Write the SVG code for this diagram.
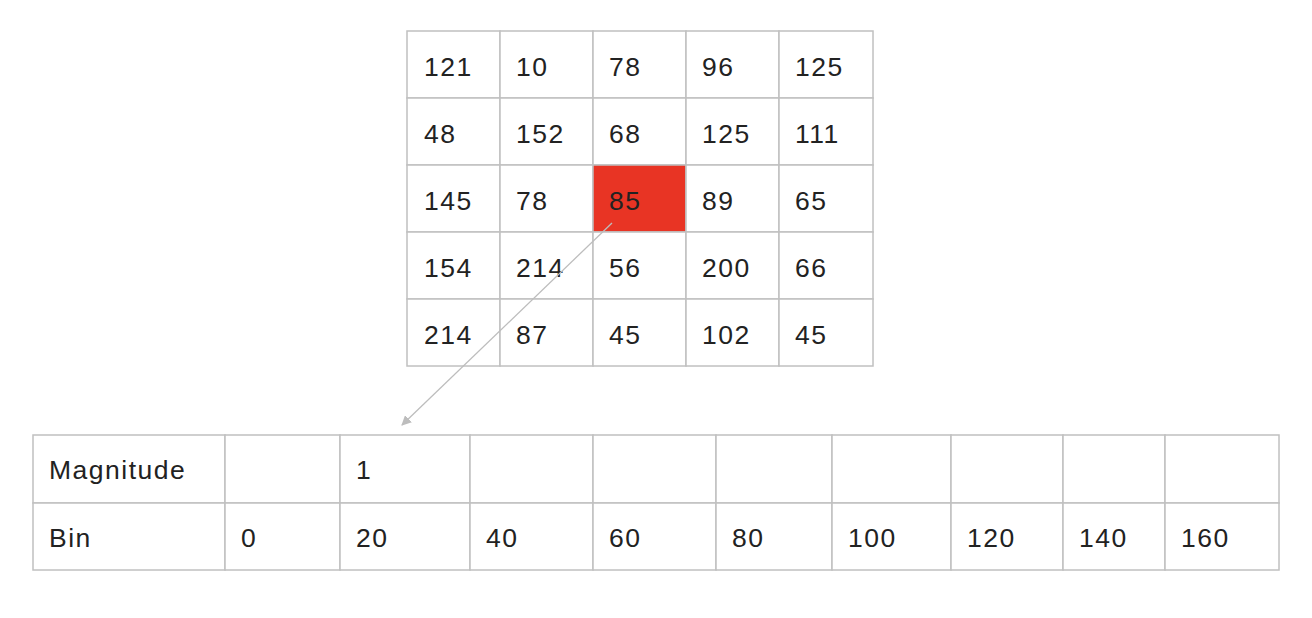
<svg xmlns="http://www.w3.org/2000/svg" width="1312" height="618" viewBox="0 0 1312 618">
<style>
.cell{fill:#ffffff;stroke:#c0c0c0;stroke-width:1.5}
.hot{fill:#e83424;stroke:#c0c0c0;stroke-width:1.5}
.t{font-family:"Liberation Sans",Arial,sans-serif;font-size:26.5px;letter-spacing:1.5px;fill:#222222}
.conn{stroke:#bdbdbd;stroke-width:1.3;fill:none}
</style>
<defs>
<marker id="ah" markerWidth="10" markerHeight="10" refX="9" refY="5" orient="auto" markerUnits="userSpaceOnUse" viewBox="0 0 10 10">
<path d="M0,0 L10,5 L0,10 z" fill="#bdbdbd"/>
</marker>
</defs>
<rect width="1312" height="618" fill="#ffffff"/>
<g id="grid">
<rect class="cell" x="407" y="31" width="93" height="67"/><text class="t" x="424" y="76">121</text>
<rect class="cell" x="500" y="31" width="93" height="67"/><text class="t" x="516" y="76">10</text>
<rect class="cell" x="593" y="31" width="93" height="67"/><text class="t" x="609" y="76">78</text>
<rect class="cell" x="686" y="31" width="93" height="67"/><text class="t" x="702" y="76">96</text>
<rect class="cell" x="779" y="31" width="94" height="67"/><text class="t" x="795" y="76">125</text>
<rect class="cell" x="407" y="98" width="93" height="67"/><text class="t" x="424" y="143">48</text>
<rect class="cell" x="500" y="98" width="93" height="67"/><text class="t" x="516" y="143">152</text>
<rect class="cell" x="593" y="98" width="93" height="67"/><text class="t" x="609" y="143">68</text>
<rect class="cell" x="686" y="98" width="93" height="67"/><text class="t" x="702" y="143">125</text>
<rect class="cell" x="779" y="98" width="94" height="67"/><text class="t" x="795" y="143">111</text>
<rect class="cell" x="407" y="165" width="93" height="67"/><text class="t" x="424" y="210">145</text>
<rect class="cell" x="500" y="165" width="93" height="67"/><text class="t" x="516" y="210">78</text>
<rect class="hot" x="593" y="165" width="93" height="67"/><text class="t" x="609" y="210">85</text>
<rect class="cell" x="686" y="165" width="93" height="67"/><text class="t" x="702" y="210">89</text>
<rect class="cell" x="779" y="165" width="94" height="67"/><text class="t" x="795" y="210">65</text>
<rect class="cell" x="407" y="232" width="93" height="67"/><text class="t" x="424" y="277">154</text>
<rect class="cell" x="500" y="232" width="93" height="67"/><text class="t" x="516" y="277">214</text>
<rect class="cell" x="593" y="232" width="93" height="67"/><text class="t" x="609" y="277">56</text>
<rect class="cell" x="686" y="232" width="93" height="67"/><text class="t" x="702" y="277">200</text>
<rect class="cell" x="779" y="232" width="94" height="67"/><text class="t" x="795" y="277">66</text>
<rect class="cell" x="407" y="299" width="93" height="67"/><text class="t" x="424" y="344">214</text>
<rect class="cell" x="500" y="299" width="93" height="67"/><text class="t" x="516" y="344">87</text>
<rect class="cell" x="593" y="299" width="93" height="67"/><text class="t" x="609" y="344">45</text>
<rect class="cell" x="686" y="299" width="93" height="67"/><text class="t" x="702" y="344">102</text>
<rect class="cell" x="779" y="299" width="94" height="67"/><text class="t" x="795" y="344">45</text>
</g>
<g id="histogram">
<rect class="cell" x="33" y="435" width="192" height="68"/><text class="t" x="49" y="479">Magnitude</text>
<rect class="cell" x="225" y="435" width="115" height="68"/>
<rect class="cell" x="340" y="435" width="130" height="68"/><text class="t" x="356" y="479">1</text>
<rect class="cell" x="470" y="435" width="123" height="68"/>
<rect class="cell" x="593" y="435" width="123" height="68"/>
<rect class="cell" x="716" y="435" width="116" height="68"/>
<rect class="cell" x="832" y="435" width="119" height="68"/>
<rect class="cell" x="951" y="435" width="112" height="68"/>
<rect class="cell" x="1063" y="435" width="102" height="68"/>
<rect class="cell" x="1165" y="435" width="114" height="68"/>
<rect class="cell" x="33" y="503" width="192" height="67"/><text class="t" x="49" y="547">Bin</text>
<rect class="cell" x="225" y="503" width="115" height="67"/><text class="t" x="241" y="547">0</text>
<rect class="cell" x="340" y="503" width="130" height="67"/><text class="t" x="356" y="547">20</text>
<rect class="cell" x="470" y="503" width="123" height="67"/><text class="t" x="486" y="547">40</text>
<rect class="cell" x="593" y="503" width="123" height="67"/><text class="t" x="609" y="547">60</text>
<rect class="cell" x="716" y="503" width="116" height="67"/><text class="t" x="732" y="547">80</text>
<rect class="cell" x="832" y="503" width="119" height="67"/><text class="t" x="848" y="547">100</text>
<rect class="cell" x="951" y="503" width="112" height="67"/><text class="t" x="967" y="547">120</text>
<rect class="cell" x="1063" y="503" width="102" height="67"/><text class="t" x="1079" y="547">140</text>
<rect class="cell" x="1165" y="503" width="114" height="67"/><text class="t" x="1181" y="547">160</text>
</g>
<g id="connectors">
<line class="conn" x1="612" y1="223" x2="402" y2="425" marker-end="url(#ah)"/>
</g>
</svg>
